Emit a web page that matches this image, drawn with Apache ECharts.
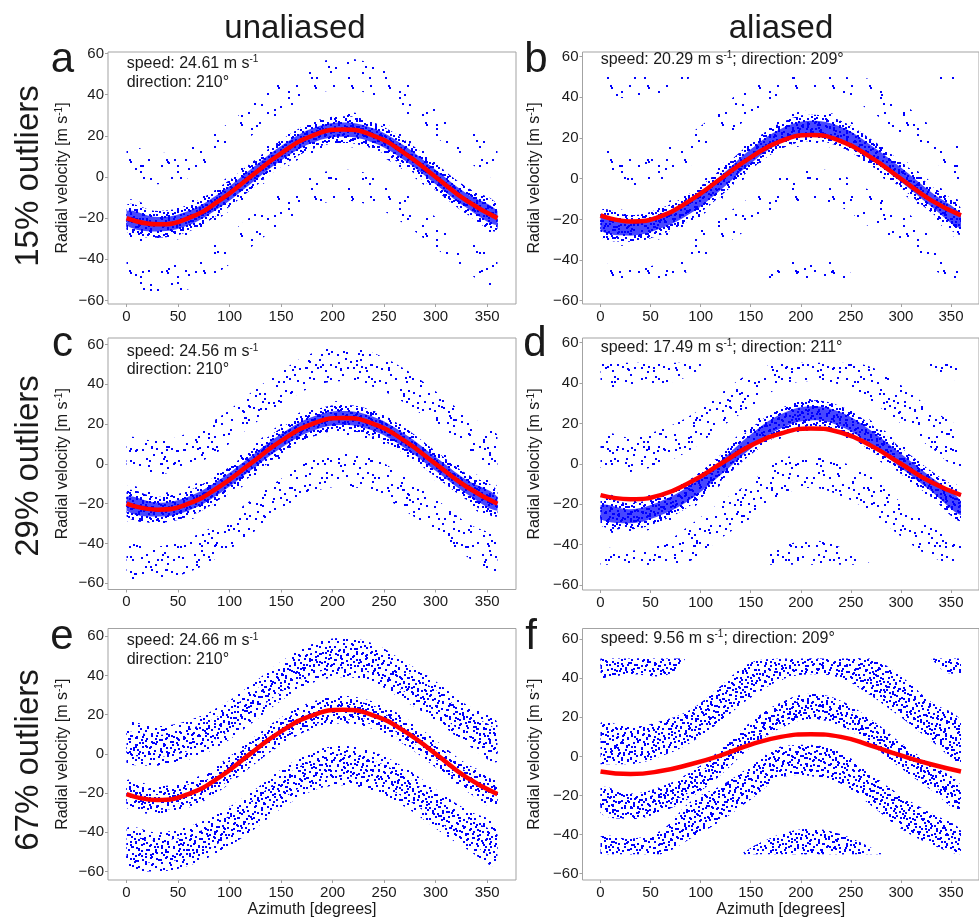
<!DOCTYPE html>
<html>
<head>
<meta charset="utf-8">
<script src="https://cdn.jsdelivr.net/npm/echarts@6/dist/echarts.min.js"></script>
<style>
  html, body { margin: 0; padding: 0; background: #ffffff; }
  #chart { width: 979px; height: 919px; }
</style>
</head>
<body>
<div id="chart"></div>
<script>
// ---------------------------------------------------------------
// Radial velocity vs azimuth: fitted wind (red) over the observed
// velocity clusters (blue), unaliased vs aliased, three outlier rates.
// ---------------------------------------------------------------

// azimuth sampling of every curve / cluster edge below
const AZ = [0, 30, 60, 90, 120, 150, 180, 210, 240, 270, 300, 330, 360];
const AZ_TICKS = [0, 50, 100, 150, 200, 250, 300, 350];
const V_TICKS = [-60, -40, -20, 0, 20, 40, 60];

// ---- a: 15% outliers, unaliased ----
const fitA   = [-20, -23, -20, -11.5, 0, 11.5, 20, 23, 20, 11.5, 0, -11.5, -20];
const mainA  = [-20, -23, -20, -11.5, 0, 11.5, 20, 23, 20, 11.5, 0, -11.5, -20];
const upperA = [7, 4, 7, 15.5, 27, 38.5, 47, 50, 47, 38.5, 27, 15.5, 7];
const lowerA = [-47, -50, -47, -38.5, -27, -15.5, -7, -4, -7, -15.5, -27, -38.5, -47];

// ---- c: 29% outliers, unaliased ----
const fitC   = [-20, -23, -20, -11.5, 0, 11.5, 20, 23, 20, 11.5, 0, -11.5, -20];
const mainC  = [-20, -23, -20, -11.5, 0, 11.5, 20, 23, 20, 11.5, 0, -11.5, -20];
const upperC = [4, 3, 7, 15, 27, 38, 47, 50, 47, 39, 28, 16, 6];
const lowerC = [-49, -50, -46, -38, -27, -16, -6, -3, -6, -15, -26, -38, -47];

// ---- e: 67% outliers, unaliased ----
const fitE   = [-20.5, -23.5, -20.5, -12, 0, 11.5, 19.5, 22.5, 19.5, 11.5, 0, -12, -20.5];
const mainE  = [-20.5, -23.5, -20.5, -12, 0, 11.5, 19.5, 22.5, 19.5, 11.5, 0, -12, -20.5];
const upperE = [5, 4, 7, 14, 25, 37, 46, 49, 46, 37, 27, 15, 6];
const lowerE = [-48, -50, -47, -40, -30, -18, -9, -6, -9, -17, -28, -38.5, -47];

// ---- b: 15% outliers, aliased (folded into +-50) ----
const fitB    = [-18, -21, -18.5, -10.5, 0, 10.5, 18.5, 21.5, 18.5, 10.5, 0, -10.5, -18];
const mainB   = [-22, -24.5, -21, -13.5, -2, 11, 21, 25, 22, 13, 2, -10, -21];
const upLoB   = [-2, -4.5, -1, 6.5, 18, 31, 41, 45, 42, 33, 22, 10, -1];
const upHiB   = [14, 11.5, 15, 22.5, 34, 47, 50, 50, 50, 49, 38, 26, 15];
const lowLoB  = [-50, -50, -50, -45, -34, -24, -15, -11, -14, -24, -31, -44, -50];
const lowHiB  = [-42, -44.5, -41, -29, -19, -9, 1, 5, 2, -6, -14, -28, -41];
const humpAzB = [160, 180, 195, 210, 225, 240, 260];
const humpLoB = [-50, -50, -50, -50, -50, -50, -50];
const humpHiB = [-50, -43, -40, -38.5, -40, -43, -50];
const topAzB  = [0, 30, 60, 80, 90];
const topLoB  = [42, 39.5, 41, 46, 50];
const topHiB  = [50, 50, 50, 50, 50];
const topRAzB = [335, 350, 360];
const topRLoB = [50, 45, 43];
const topRHiB = [50, 50, 50];

// ---- d: 29% outliers, aliased ----
const fitD    = [-15.5, -17.5, -15.5, -9, 0, 9, 15, 17.5, 15.5, 9, 0, -9, -15.5];
const mainD   = [-24, -26, -22, -14, -2, 11, 21, 25, 22, 13, 1.5, -10, -22];
const upLoD   = [-2, -4, 0, 7, 18, 28, 38, 41, 39, 31, 20, 8, -2];
const upHiD   = [15, 13, 17, 24, 35, 45, 50, 50, 50, 48, 39, 27, 16];
const lowLoD  = [-50, -50, -50, -48, -37, -27, -16, -12, -16, -24, -36, -46, -50];
const lowHiD  = [-42, -43, -40, -30, -19, -9, 2, 5, 1, -6, -19, -31, -40];
const humpAzD = [150, 170, 190, 210, 230, 250, 272];
const humpLoD = [-50, -50, -50, -50, -50, -50, -50];
const humpHiD = [-50, -44, -39.5, -38, -39.5, -44, -50];
const topAzD  = [0, 30, 60, 90, 105];
const topLoD  = [40, 37, 39, 44, 50];
const topHiD  = [50, 50, 50, 50, 50];
const topRAzD = [325, 345, 360];
const topRLoD = [50, 43, 41];
const topRHiD = [50, 50, 50];

// ---- f: 67% outliers, aliased ----
const fitF    = [-7.7, -9, -7.5, -4, 0.5, 6, 10, 11.3, 10, 5.5, 0.5, -4, -7.7];
const mainF   = [-22.5, -25.5, -22, -14.5, -3, 11, 21, 25.5, 22, 12.5, 0.5, -10.5, -21.5];
const upLoF   = [-4, -4, 0, 7, 18, 30, 39, 42, 40, 31, 20, 8, -3];
const upHiF   = [17, 15, 18, 24, 36, 48, 50, 50, 50, 50, 41, 28, 18];
const lowLoF  = [-50, -50, -50, -42, -33, -22, -11, -10, -14, -25, -37, -45, -50];
const lowHiF  = [-41, -42, -38, -23, -15, -5, 5, 6, 2, -9, -20, -29, -38];
const humpAzF = [140, 160, 185, 210, 235, 260, 282];
const humpLoF = [-50, -50, -50, -50, -50, -50, -50];
const humpHiF = [-50, -44, -39, -37, -39, -44, -50];
const topAzF  = [0, 30, 60, 75, 85];
const topLoF  = [40, 42, 41, 44, 50];
const topHiF  = [50, 50, 50, 50, 50];
const topRAzF = [330, 345, 360];
const topRLoF = [50, 43, 42];
const topRHiF = [50, 50, 50];

// ---------------------------------------------------------------
// styling
// ---------------------------------------------------------------
const FONT = '"Liberation Sans", Arial, Helvetica, sans-serif';
const INK = '#1a1a1a';
const BOX = '#a3a3a3';
const BLUE = '#0000ff';

// irregular dot layout of a 48x48 texture tile (point-cloud look)
const TILE_DOTS = [
  [3, 7], [11, 2], [19, 9], [27, 4], [36, 1], [44, 8], [7, 15], [15, 19], [24, 14],
  [31, 11], [40, 17], [46, 22], [2, 26], [10, 30], [20, 24], [28, 21], [34, 28], [42, 33],
  [6, 38], [14, 43], [23, 35], [30, 40], [38, 45], [45, 39], [17, 31], [25, 46], [33, 18],
  [1, 45], [9, 22], [39, 26], [21, 41], [13, 12], [29, 31], [47, 14], [4, 33], [36, 37],
  [16, 5], [42, 2], [22, 17], [8, 47]
];
// each layer re-tiles the layout at another period so that stacked layers never line up;
// "pick" keeps every n-th dot (starting at an offset) for the thinner layers
const LAYERS = {
  p48:  { size: 48, map: ([x, y]) => [x, y] },
  p41:  { size: 41, map: ([x, y]) => [y * 41 / 48, x * 41 / 48] },
  p37:  { size: 37, map: ([x, y]) => [(47 - x) * 37 / 48, y * 37 / 48] },
  p53:  { size: 53, map: ([x, y]) => [y * 53 / 48, (47 - x) * 53 / 48] },
  p48a: { size: 48, map: ([x, y]) => [x, y], pick: [2, 0] },
  p41b: { size: 41, map: ([x, y]) => [y * 41 / 48, x * 41 / 48], pick: [2, 1] },
  p53q: { size: 53, map: ([x, y]) => [y * 53 / 48, (47 - x) * 53 / 48], pick: [4, 1] },
  p37q: { size: 37, map: ([x, y]) => [(47 - x) * 37 / 48, y * 37 / 48], pick: [5, 3] }
};
function makeTexture(layer) {
  const s = layer.size;
  const cv = document.createElement('canvas');
  cv.width = s; cv.height = s;
  const g = cv.getContext('2d');
  g.fillStyle = BLUE;
  const pts = layer.pick ? TILE_DOTS.filter((d, k) => k % layer.pick[0] === layer.pick[1]) : TILE_DOTS;
  pts.forEach(d => {
    const [fx, fy] = layer.map(d);
    const px = Math.round(fx) % s, py = Math.round(fy) % s;
    for (const ox of [0, -s]) for (const oy of [0, -s]) g.fillRect(px + ox, py + oy, 2, 2);
  });
  return { image: cv, repeat: 'repeat' };
}
const TEX = {};
Object.keys(LAYERS).forEach(k => { TEX[k] = makeTexture(LAYERS[k]); });

// density levels = stacked texture layers (+ optional solid tint underneath)
const DENSITY = {
  sparse: { layers: ['p53q', 'p37q'] },
  light:  { layers: ['p48a', 'p41b'] },
  medium: { layers: ['p48', 'p41'] },
  heavy:  { layers: ['p48', 'p41', 'p37'] },
  dense:  { layers: ['p48', 'p41', 'p37', 'p53'] },
  core:   { layers: ['p48', 'p41', 'p37', 'p53'], tint: 'rgba(0,0,255,0.72)' }
};

// cluster builders
function band(az, lo, hi, tex) { return { az, lo, hi, tex }; }
function around(center, half, tex) {
  return band(AZ, center.map(v => v - half), center.map(v => v + half), tex);
}

// ---------------------------------------------------------------
// panels
// ---------------------------------------------------------------
const PANELS = [
  { grid: { left: 108, top: 52, width: 408, height: 252 }, yMin: -61.7, yMax: 60.7, fit: fitA, col: 0, xName: false,
    bands: [around(upperA, 7.5, 'sparse'), around(lowerA, 7.5, 'sparse'),
            around(mainA, 8.5, 'sparse'), around(mainA, 6.5, 'dense'), around(mainA, 3.5, 'core')] },
  { grid: { left: 582.5, top: 52, width: 408, height: 252 }, yMin: -61.6, yMax: 62.3, fit: fitB, col: 1, xName: false,
    bands: [band(AZ, upLoB, upHiB, 'sparse'), band(AZ, lowLoB, lowHiB, 'sparse'),
            band(humpAzB, humpLoB, humpHiB, 'sparse'), band(topAzB, topLoB, topHiB, 'sparse'),
            band(topRAzB, topRLoB, topRHiB, 'sparse'),
            around(mainB, 8.5, 'sparse'), around(mainB, 6.5, 'dense'), around(mainB, 3.5, 'core')] },
  { grid: { left: 108, top: 338, width: 408, height: 251.5 }, yMin: -63.1, yMax: 63.2, fit: fitC, col: 0, xName: false,
    bands: [around(upperC, 8.5, 'light'), around(lowerC, 8.5, 'light'),
            around(mainC, 8.5, 'sparse'), around(mainC, 6.5, 'dense'), around(mainC, 3.5, 'core')] },
  { grid: { left: 582.5, top: 338, width: 408, height: 252 }, yMin: -62.5, yMax: 62.3, fit: fitD, col: 1, xName: false,
    bands: [band(AZ, upLoD, upHiD, 'light'), band(AZ, lowLoD, lowHiD, 'light'),
            band(humpAzD, humpLoD, humpHiD, 'light'), band(topAzD, topLoD, topHiD, 'light'),
            band(topRAzD, topRLoD, topRHiD, 'light'),
            around(mainD, 8.5, 'sparse'), around(mainD, 6.5, 'dense'), around(mainD, 3.5, 'core')] },
  { grid: { left: 108, top: 628.5, width: 408, height: 254 }, yMin: -64.3, yMax: 63.9, fit: fitE, col: 0, xName: true,
    bands: [around(upperE, 10, 'medium'), around(upperE, 5.5, 'heavy'),
            around(lowerE, 10, 'medium'), around(lowerE, 5.5, 'heavy'),
            around(mainE, 7, 'medium'), around(mainE, 5, 'heavy'), around(mainE, 3, 'dense')] },
  { grid: { left: 582.5, top: 628.5, width: 408, height: 254 }, yMin: -63.2, yMax: 65.4, fit: fitF, col: 1, xName: true,
    bands: [band(AZ, upLoF, upHiF, 'heavy'), band(AZ, lowLoF, lowHiF, 'heavy'),
            band(humpAzF, humpLoF, humpHiF, 'heavy'), band(topAzF, topLoF, topHiF, 'heavy'),
            band(topRAzF, topRLoF, topRHiF, 'heavy'),
            around(mainF, 6.5, 'heavy'), around(mainF, 3.5, 'dense')] }
];

const minus = v => String(v).replace('-', '\u2212');
const grids = [], xAxes = [], yAxes = [], series = [];
const SMOOTH_BOX = [[Infinity, Infinity], [-Infinity, -Infinity]];

// a point cloud drawn as textured regions between its lower and upper edges
function cloudSeries(i, b) {
  const level = DENSITY[b.tex];
  return {
    type: 'custom', xAxisIndex: i, yAxisIndex: i, silent: true, clip: true, z: 2,
    data: b.az.map((x, k) => [x, b.lo[k], b.hi[k]]),
    encode: { x: 0, y: [1, 2] },
    renderItem: (params, api) => {
      if (params.dataIndex !== 0) return null;
      const pts = [];
      for (let k = 0; k < b.az.length; k++) pts.push(api.coord([b.az[k], b.lo[k]]));
      for (let k = b.az.length - 1; k >= 0; k--) pts.push(api.coord([b.az[k], b.hi[k]]));
      const fills = (level.tint ? [level.tint] : []).concat(level.layers.map(l => TEX[l]));
      return {
        type: 'group',
        children: fills.map(fill => ({
          type: 'polygon',
          shape: { points: pts, smooth: 0.4, smoothConstraint: SMOOTH_BOX },
          style: { fill, stroke: null }
        }))
      };
    }
  };
}

PANELS.forEach((p, i) => {
  grids.push(Object.assign({ show: true, borderColor: BOX, borderWidth: 1, backgroundColor: 'transparent' }, p.grid));

  xAxes.push({
    type: 'value', gridIndex: i, min: -18, max: 378,
    axisLine: { show: false, onZero: false },
    splitLine: { show: false },
    axisTick: { show: true, length: 3, lineStyle: { color: BOX }, customValues: AZ_TICKS },
    axisLabel: { customValues: AZ_TICKS, fontFamily: FONT, fontSize: 15, color: INK, margin: 5 },
    name: p.xName ? 'Azimuth [degrees]' : '',
    nameLocation: 'middle', nameGap: 22,
    nameTextStyle: { fontFamily: FONT, fontSize: 16, color: INK }
  });

  yAxes.push({
    type: 'value', gridIndex: i, min: p.yMin, max: p.yMax,
    axisLine: { show: false, onZero: false },
    splitLine: { show: false },
    axisTick: { show: true, length: 3, lineStyle: { color: BOX }, customValues: V_TICKS },
    axisLabel: { customValues: V_TICKS, fontFamily: FONT, fontSize: 15, color: INK, margin: 4, formatter: minus },
    name: '{n|Radial velocity [m s}{s|-1}{n|]}',
    nameLocation: 'middle', nameGap: p.col === 0 ? 36 : 38.5,
    nameTextStyle: {
      fontFamily: FONT, fontSize: 16, color: INK,
      rich: {
        n: { fontFamily: FONT, fontSize: 16, color: INK, lineHeight: 18 },
        s: { fontFamily: FONT, fontSize: 10, color: INK, lineHeight: 18, verticalAlign: 'top' }
      }
    }
  });

  p.bands.forEach(b => series.push(cloudSeries(i, b)));

  // fitted wind curve
  series.push({
    type: 'line', xAxisIndex: i, yAxisIndex: i, smooth: true, symbol: 'none', silent: true,
    data: AZ.map((x, k) => [x, p.fit[k]]),
    lineStyle: { color: '#ff0000', width: 4.5 }, z: 5
  });
});

// ---------------------------------------------------------------
// titles, panel letters and fit annotations
// ---------------------------------------------------------------
function label(x, y, text, size, extra) {
  return Object.assign({
    type: 'text', x, y, silent: true, z: 100,
    style: { text, fontFamily: FONT, fontSize: size, fill: INK, align: 'center', verticalAlign: 'middle' }
  }, extra || {});
}
function note(x, y, text) {
  return {
    type: 'text', x, y, silent: true, z: 100,
    style: {
      text, fontFamily: FONT, fontSize: 16, fill: INK, align: 'left', verticalAlign: 'middle',
      rich: {
        t: { fontFamily: FONT, fontSize: 16, fill: INK, lineHeight: 18 },
        s: { fontFamily: FONT, fontSize: 10, fill: INK, lineHeight: 18, verticalAlign: 'top' }
      }
    }
  };
}

const graphics = [
  label(295, 28.5, 'unaliased', 33),
  label(781, 28.5, 'aliased', 33),
  label(28.5, 176, '15% outliers', 33, { rotation: Math.PI / 2 }),
  label(28.5, 466, '29% outliers', 33, { rotation: Math.PI / 2 }),
  label(28.5, 760, '67% outliers', 33, { rotation: Math.PI / 2 }),
  label(62.5, 60.3, 'a', 42),
  label(536, 60.3, 'b', 42),
  label(62.5, 344.6, 'c', 42),
  label(535, 344.6, 'd', 42),
  label(62, 637, 'e', 42),
  label(531, 637, 'f', 42),
  note(126.7, 63.7, '{t|speed: 24.61 m s}{s|-1}'),
  note(126.7, 82.7, '{t|direction: 210°}'),
  note(600.7, 59.4, '{t|speed: 20.29 m s}{s|-1}{t|; direction: 209°}'),
  note(126.7, 352, '{t|speed: 24.56 m s}{s|-1}'),
  note(126.7, 369.5, '{t|direction: 210°}'),
  note(600.7, 347.7, '{t|speed: 17.49 m s}{s|-1}{t|; direction: 211°}'),
  note(126.7, 641, '{t|speed: 24.66 m s}{s|-1}'),
  note(126.7, 659.4, '{t|direction: 210°}'),
  note(600.7, 638.7, '{t|speed: 9.56 m s}{s|-1}{t|; direction: 209°}')
];

const chart = echarts.init(document.getElementById('chart'), null, { renderer: 'canvas', width: 979, height: 919 });
chart.setOption({
  animation: false,
  backgroundColor: '#ffffff',
  grid: grids,
  xAxis: xAxes,
  yAxis: yAxes,
  series,
  graphic: { elements: graphics }
});
</script>
</body>
</html>
